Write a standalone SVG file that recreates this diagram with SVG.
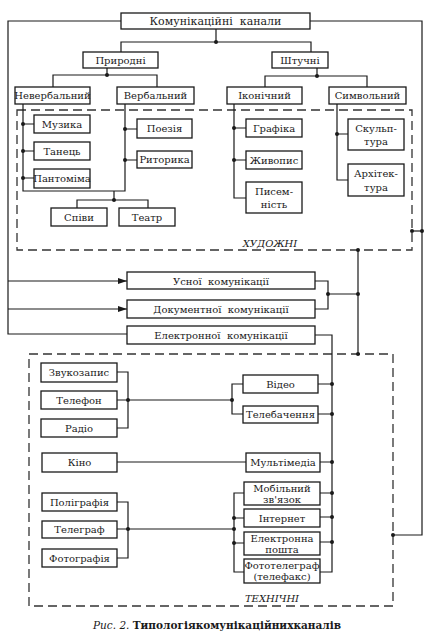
<svg xmlns="http://www.w3.org/2000/svg" width="430" height="638" viewBox="0 0 430 638">
<style>
.b{fill:#fff;stroke:#1a1a1a;stroke-width:1.3}
.t{font-family:"DejaVu Serif","Liberation Serif",serif;font-size:10px;fill:#1a1a1a;text-anchor:middle}
.w{white-space:pre}
.c{fill:none;stroke:#1a1a1a;stroke-width:1.2}
.d{fill:none;stroke:#333;stroke-width:1.3;stroke-dasharray:9 5}
.dot{fill:#1a1a1a}
.lbl{font-family:"DejaVu Serif","Liberation Serif",serif;font-size:10px;font-style:italic;fill:#1a1a1a;text-anchor:middle}
</style>
<defs>
<marker id="ar" markerWidth="9" markerHeight="6" refX="9" refY="3" orient="auto" markerUnits="userSpaceOnUse">
<path d="M0,0 L9,3 L0,6 Z" fill="#1a1a1a"/>
</marker>
</defs>
<rect width="430" height="638" fill="#fff"/>

<g id="groups">
<rect class="d" x="17" y="110" width="395" height="140"/>
<text class="lbl" x="270" y="247">ХУДОЖНІ</text>
<rect class="d" x="29" y="354" width="364" height="252"/>
<text class="lbl" x="272" y="602">ТЕХНІЧНІ</text>
</g>

<g id="connectors">
<path class="c" d="M121,21 H8 V334 H127"/>
<path class="c" d="M8,281 H127" marker-end="url(#ar)"/>
<path class="c" d="M8,309 H127" marker-end="url(#ar)"/>
<path class="c" d="M310,21 H422 V535 H393"/>
<path class="c" d="M412,231 H422"/>
<path class="c" d="M216,29 V42 M121,52 V42 H311 V52"/>
<path class="c" d="M107,68 V75 M53,87 V75 H157 V87"/>
<path class="c" d="M317,68 V76 M265,87 V76 H367 V87"/>
<path class="c" d="M23,104 V191 H125 V104 M23,124 H34 M23,151 H34 M23,178 H34 M125,129 H137 M125,160 H137"/>
<path class="c" d="M114,191 V200 M77,208 V200 H148 V208"/>
<path class="c" d="M234,104 V198 H246 M234,128 H246 M234,160 H246"/>
<path class="c" d="M337,104 V180 H348 M337,134 H348"/>
<path class="c" d="M315,281 H328 V309 H315 M328,294 H358"/>
<path class="c" d="M358,250 V354"/>
<path class="c" d="M315,335 H332 V572 H320"/>
<path class="c" d="M117,372 H128 V428 H117 M117,400 H232 M243,384 H232 V414 H243"/>
<path class="c" d="M318,384 H332 M318,414 H332"/>
<path class="c" d="M117,462 H246 M320,462 H332"/>
<path class="c" d="M244,493 H234 V572 H244 M234,518 H244 M234,543 H244"/>
<path class="c" d="M320,493 H332 M320,517 H332 M320,542 H332"/>
<path class="c" d="M117,502 H128 V558 H117 M117,529 H234"/>
<g class="dot">
<circle cx="216" cy="42" r="2"/>
<circle cx="107" cy="75" r="2"/>
<circle cx="317" cy="76" r="2"/>
<circle cx="23" cy="124" r="2"/>
<circle cx="23" cy="151" r="2"/>
<circle cx="23" cy="178" r="2"/>
<circle cx="125" cy="129" r="2"/>
<circle cx="125" cy="160" r="2"/>
<circle cx="114" cy="200" r="2"/>
<circle cx="234" cy="128" r="2"/>
<circle cx="234" cy="160" r="2"/>
<circle cx="337" cy="134" r="2"/>
<circle cx="412" cy="231" r="2"/>
<circle cx="422" cy="231" r="2"/>
<circle cx="358" cy="250" r="2"/>
<circle cx="328" cy="294" r="2"/>
<circle cx="358" cy="294" r="2"/>
<circle cx="358" cy="354" r="2"/>
<circle cx="128" cy="400" r="2"/>
<circle cx="232" cy="400" r="2"/>
<circle cx="332" cy="384" r="2"/>
<circle cx="332" cy="414" r="2"/>
<circle cx="332" cy="462" r="2"/>
<circle cx="332" cy="493" r="2"/>
<circle cx="332" cy="517" r="2"/>
<circle cx="332" cy="542" r="2"/>
<circle cx="234" cy="518" r="2"/>
<circle cx="234" cy="543" r="2"/>
<circle cx="234" cy="529" r="2"/>
<circle cx="128" cy="529" r="2"/>
<circle cx="393" cy="535" r="2"/>
</g>
</g>

<g id="n-kanaly"><rect class="b" x="121" y="13" width="189" height="16"/><text class="t w" x="215.5" y="25" style="font-size:11px">Комунікаційні  канали</text></g>
<g id="n-pryrodni"><rect class="b" x="83" y="52" width="75" height="16"/><text class="t" x="120.5" y="63.5">Природні</text></g>
<g id="n-shtuchni"><rect class="b" x="272" y="52" width="56" height="16"/><text class="t" x="300" y="63.5">Штучні</text></g>
<g id="n-neverb"><rect class="b" x="15" y="87" width="75" height="17"/><text class="t" x="52.5" y="99">Невербальний</text></g>
<g id="n-verb"><rect class="b" x="117" y="87" width="77" height="17"/><text class="t" x="155.5" y="99">Вербальний</text></g>
<g id="n-ikon"><rect class="b" x="227" y="87" width="75" height="17"/><text class="t" x="264.5" y="99">Іконічний</text></g>
<g id="n-symv"><rect class="b" x="329" y="87" width="77" height="17"/><text class="t" x="367.5" y="99">Символьний</text></g>
<g id="n-muzyka"><rect class="b" x="34" y="115" width="56" height="18"/><text class="t" x="62" y="127.5">Музика</text></g>
<g id="n-tanets"><rect class="b" x="34" y="142" width="56" height="18"/><text class="t" x="62" y="154.5">Танець</text></g>
<g id="n-pantomima"><rect class="b" x="34" y="169" width="56" height="19"/><text class="t" x="62" y="182">Пантоміма</text></g>
<g id="n-poeziya"><rect class="b" x="137" y="119" width="55" height="19"/><text class="t" x="164.5" y="132">Поезія</text></g>
<g id="n-rytoryka"><rect class="b" x="137" y="151" width="55" height="17"/><text class="t" x="164.5" y="163">Риторика</text></g>
<g id="n-spivy"><rect class="b" x="51" y="208" width="56" height="18"/><text class="t" x="79" y="220.5">Співи</text></g>
<g id="n-teatr"><rect class="b" x="119" y="208" width="56" height="18"/><text class="t" x="147" y="220.5">Театр</text></g>
<g id="n-grafika"><rect class="b" x="246" y="119" width="56" height="18"/><text class="t" x="274" y="131.5">Графіка</text></g>
<g id="n-zhyvopys"><rect class="b" x="246" y="151" width="56" height="18"/><text class="t" x="274" y="163.5">Живопис</text></g>
<g id="n-pysemnist"><rect class="b" x="246" y="182" width="56" height="31"/><text class="t" x="274" y="195">Писем-</text><text class="t" x="274" y="208">ність</text></g>
<g id="n-skulptura"><rect class="b" x="348" y="119" width="56" height="31"/><text class="t" x="376" y="132">Скульп-</text><text class="t" x="376" y="145">тура</text></g>
<g id="n-arkhitektura"><rect class="b" x="348" y="164" width="56" height="32"/><text class="t" x="376" y="177">Архітек-</text><text class="t" x="376" y="190.5">тура</text></g>

<g id="n-usnoi"><rect class="b" x="127" y="272" width="188" height="17"/><text class="t w" x="221" y="284.5">Усної  комунікації</text></g>
<g id="n-dokument"><rect class="b" x="127" y="300" width="188" height="18"/><text class="t w" x="221" y="312.5">Документної  комунікації</text></g>
<g id="n-elektron"><rect class="b" x="127" y="326" width="188" height="18"/><text class="t w" x="221" y="338.5">Електронної  комунікації</text></g>

<g id="n-zvukozapys"><rect class="b" x="41" y="363" width="76" height="19"/><text class="t" x="79" y="376">Звукозапис</text></g>
<g id="n-telefon"><rect class="b" x="41" y="391" width="76" height="18"/><text class="t" x="79" y="403.5">Телефон</text></g>
<g id="n-radio"><rect class="b" x="41" y="419" width="76" height="18"/><text class="t" x="79" y="431.5">Радіо</text></g>
<g id="n-video"><rect class="b" x="243" y="375" width="75" height="18"/><text class="t" x="280.5" y="387.5">Відео</text></g>
<g id="n-telebachennya"><rect class="b" x="243" y="406" width="75" height="17"/><text class="t" x="280.5" y="418">Телебачення</text></g>
<g id="n-kino"><rect class="b" x="42" y="453" width="75" height="19"/><text class="t" x="79.5" y="466">Кіно</text></g>
<g id="n-multimedia"><rect class="b" x="246" y="453" width="74" height="19"/><text class="t" x="283" y="466">Мультімедіа</text></g>
<g id="n-poligrafiya"><rect class="b" x="42" y="493" width="75" height="18"/><text class="t" x="79.5" y="505.5">Поліграфія</text></g>
<g id="n-telegraf"><rect class="b" x="42" y="521" width="75" height="17"/><text class="t" x="79.5" y="533">Телеграф</text></g>
<g id="n-fotografiya"><rect class="b" x="42" y="549" width="75" height="18"/><text class="t" x="79.5" y="561.5">Фотографія</text></g>
<g id="n-mobilnyi"><rect class="b" x="244" y="482" width="76" height="23"/><text class="t" x="282" y="492">Мобільний</text><text class="t" x="282" y="502.5">зв'язок</text></g>
<g id="n-internet"><rect class="b" x="244" y="509" width="76" height="18"/><text class="t" x="282" y="521.5">Інтернет</text></g>
<g id="n-elposhta"><rect class="b" x="244" y="532" width="76" height="23"/><text class="t" x="282" y="542">Електронна</text><text class="t" x="282" y="552.5">пошта</text></g>
<g id="n-fototelegraf"><rect class="b" x="244" y="559" width="76" height="24"/><text class="t" x="282" y="569">Фототелеграф</text><text class="t" x="282" y="580">(телефакс)</text></g>

<text x="217" y="629" style="font-family:'DejaVu Serif','Liberation Serif',serif;font-size:10.5px;fill:#1a1a1a;text-anchor:middle"><tspan font-style="italic">Рис. 2.</tspan> <tspan font-weight="bold">Типологіякомунікаційнихканалів</tspan></text>
</svg>
